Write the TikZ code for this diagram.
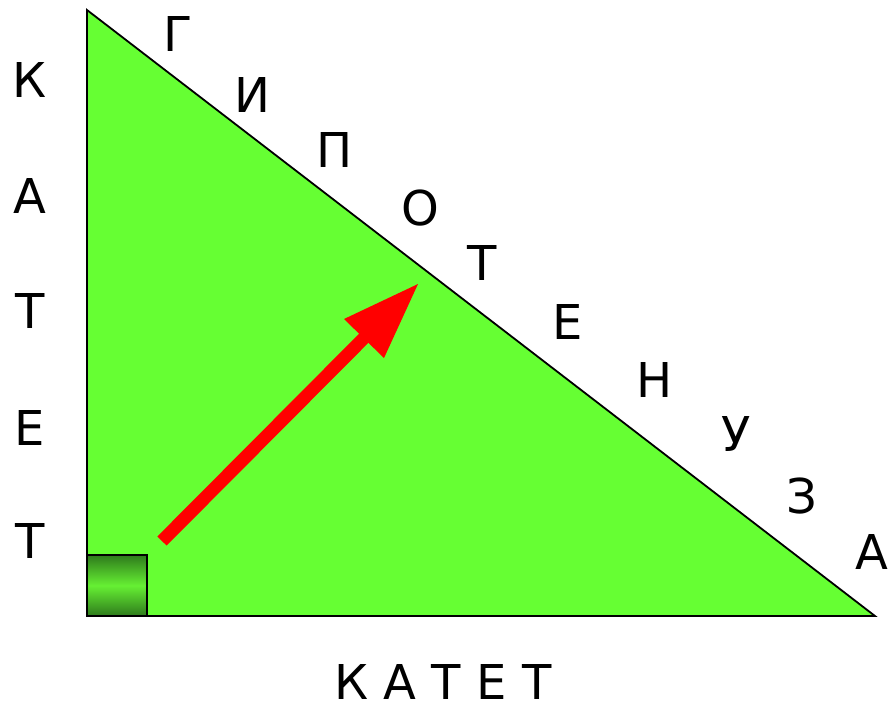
\documentclass[tikz,border=0pt]{standalone}
\usepackage{fontspec}
\setmainfont{DejaVu Sans}
\begin{document}
\begin{tikzpicture}[x=1pt,y=-1pt,
  lbl/.style={font=\fontsize{48}{50}\selectfont, inner sep=0pt, anchor=center}]
\definecolor{tri}{HTML}{66FF33}
\definecolor{sqdark}{HTML}{2E7A1C}
\definecolor{sqlight}{HTML}{66F033}
\definecolor{arr}{HTML}{FF0000}
\useasboundingbox (0,0) rectangle (888,702);
% triangle
\coordinate (A) at (87,10);
\coordinate (B) at (87,616);
\coordinate (C) at (875,616);
\fill[tri] (A) -- (B) -- (C) -- cycle;
% right angle square
\shade[top color=sqdark, bottom color=sqdark, middle color=sqlight] (87,555) rectangle (147,616);
\draw[line width=1.5pt] (87,555) rectangle (147,616);
\draw[line width=1.8pt, line join=miter] (A) -- (B) -- (C) -- cycle;
% arrow
\coordinate (s) at (162,541);
\coordinate (m) at (365,337);
\coordinate (t) at (418,284);
\draw[arr, line width=13pt] (s) -- (m);
\fill[arr] (t) -- (344,319) -- (384,358) -- cycle;
% hypotenuse letters
\node[lbl] (h1) at (178,34) {Г};
\node[lbl] (h2) at (252,95) {И};
\node[lbl] (h3) at (335,150) {П};
\node[lbl] (h4) at (420,208) {О};
\node[lbl] (h5) at (482,263) {Т};
\node[lbl] (h6) at (568,322) {Е};
\node[lbl] (h7) at (655,380) {Н};
\node[lbl] (h8) at (736,434) {У};
\node[lbl] (h9) at (802,496) {З};
\node[lbl] (h10) at (872,552) {А};
% left leg letters
\node[lbl] (l1) at (30,80) {К};
\node[lbl] (l2) at (30,196) {А};
\node[lbl] (l3) at (30,311) {Т};
\node[lbl] (l4) at (30,428) {Е};
\node[lbl] (l5) at (30,541) {Т};
% bottom leg
\node[lbl, text depth=0pt] (b) at (443,682) {К А Т Е Т};
\end{tikzpicture}
\end{document}
